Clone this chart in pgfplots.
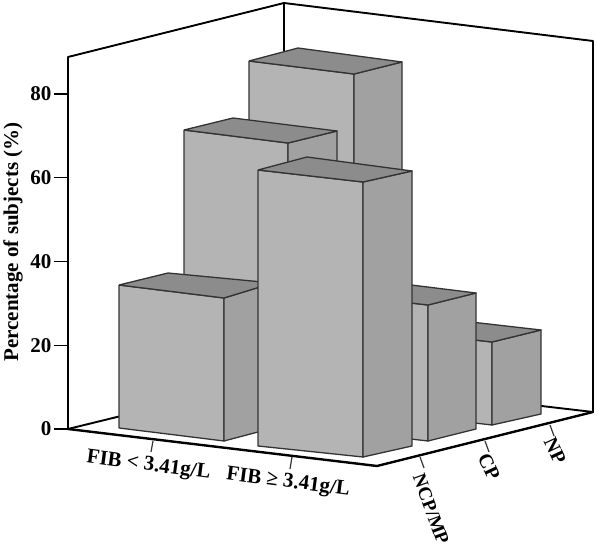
\documentclass[border=0pt]{standalone}
\usepackage{fontspec}
\setmainfont{Liberation Serif}
\usepackage{pgfplots}
\pgfplotsset{compat=1.18}
\definecolor{frontc}{HTML}{B4B4B4}
\definecolor{sidec}{HTML}{A1A1A1}
\definecolor{topc}{HTML}{8C8C8C}
\definecolor{edgec}{HTML}{333333}
% plotted coordinates: horizontal position in picture units, vertical position measured down the picture
\pgfplotsset{
  pic/.style={y filter/.expression={(429-y)/4.1875}},
  frame/.style={pic,black,line width=1.9pt,line cap=round,line join=round},
  thick frame/.style={pic,black,line width=2.4pt,line cap=round,line join=round},
  tk/.style={pic,draw=edgec,line width=1.2pt},
  face/.style={pic,draw=edgec,line width=1.3pt,line join=round,fill=#1},
}
% FLT FRT FRB FLB BLT BRT BRB
\newcommand\threedbar[7]{%
  \addplot[face=frontc] coordinates {#1 #2 #3 #4 #1};
  \addplot[face=sidec] coordinates {#2 #6 #7 #3 #2};
  \addplot[face=topc] coordinates {#1 #2 #6 #5 #1};
}
\newcommand\lab[1]{\bfseries\fontsize{#1}{#1}\selectfont}
\begin{document}
\begin{tikzpicture}
\useasboundingbox (0,0) rectangle (597pt,550pt);
\begin{axis}[
  at={(68pt,0pt)},anchor=south west,
  scale only axis,width=529pt,height=550pt,
  xmin=68,xmax=597,ymin=-28.896,ymax=102.448,
  clip=false,
  axis x line=none,
  axis y line*=left,
  y axis line style={draw=none},
  ytick={0,20,40,60,80},
  tick align=outside,
  major tick length=14pt,
  tick style={black,line width=1.2pt},
  yticklabel style={font=\lab{21},/pgf/number format/assume math mode=true,xshift=1pt},
  ylabel={Percentage of subjects (\%)},
  ylabel style={at={(rel axis cs:-0.104,0.56)},anchor=center,font=\lab{21}},
]
% walls
\addplot[frame] coordinates {(68,429) (68,57) (284,3) (593,41) (593,412)};
\addplot[frame] coordinates {(284,3) (284,376)};
\addplot[frame] coordinates {(68,429) (284,376) (593,412)};
\addplot[thick frame] coordinates {(68,429) (377,466) (593,412)};
% ticks on the floor
\addplot[tk] coordinates {(153,441) (151,452)};
\addplot[tk] coordinates {(292,457) (290,469)};
\addplot[tk] coordinates {(420,457) (424,468)};
\addplot[tk] coordinates {(485,441) (489,452)};
\addplot[tk] coordinates {(550,425) (554,436)};
% bars, back to front
\threedbar{(249,61)}{(354,74)}{(354,408)}{(249,395)}{(298,48)}{(402,62)}{(402,396)}
\threedbar{(387,330)}{(492,342)}{(492,425)}{(387,413)}{(436,318)}{(541,330)}{(541,414)}
\threedbar{(184,130)}{(288,143)}{(288,425)}{(184,413)}{(233,118)}{(337,131)}{(337,413)}
\threedbar{(323,293)}{(428,305)}{(428,441)}{(323,429)}{(371,280)}{(476,293)}{(476,429)}
\threedbar{(119,285)}{(224,298)}{(224,441)}{(119,428)}{(168,273)}{(273,283)}{(273,428)}
\threedbar{(258,170)}{(363,182)}{(363,457)}{(258,446)}{(307,157)}{(412,171)}{(412,446)}
% category labels
\node[rotate=-7.5,font=\lab{21}] at (axis cs:148.5,{(429-466)/4.1875}) {FIB < 3.41g/L};
\node[rotate=-7.5,font=\lab{21}] at (axis cs:288,{(429-483)/4.1875}) {FIB ≥ 3.41g/L};
\node[rotate=-70,font=\lab{19}] at (axis cs:431,{(429-509)/4.1875}) {NCP/MP};
\node[rotate=-65,font=\lab{20}] at (axis cs:489,{(429-467)/4.1875}) {CP};
\node[rotate=-65,font=\lab{20}] at (axis cs:555,{(429-451)/4.1875}) {NP};
\end{axis}
\end{tikzpicture}
\end{document}
